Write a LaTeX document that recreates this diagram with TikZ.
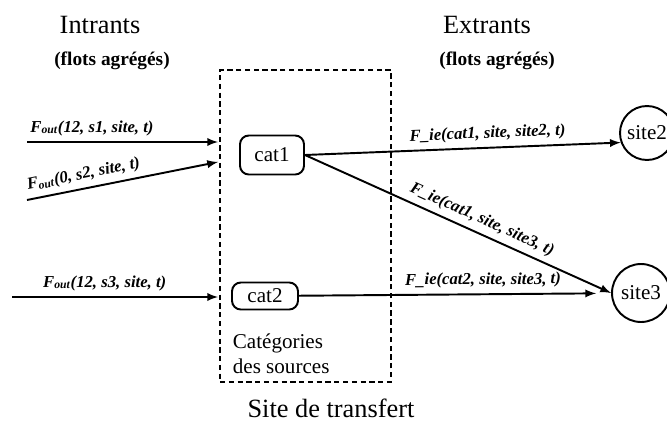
\documentclass[tikz,border=0pt]{standalone}
\usepackage{fontspec}
\setmainfont{Liberation Serif}
\usetikzlibrary{arrows,shapes,positioning}
\newcommand{\fout}[1]{F\textsubscript{out}(#1)}
\newcommand{\fie}[1]{F\_ie(#1)}
\tikzset{
  basic/.style     = {font=\rmfamily, inner sep=2pt},
  titre/.style     = {basic, font=\fontsize{15}{18}\selectfont},
  soustitre/.style = {basic, font=\fontsize{11}{13}\selectfont\bfseries},
  texte/.style     = {basic, font=\fontsize{12}{14}\selectfont},
  cat/.style       = {texte, draw, line width=1.1pt, rounded corners=5pt, align=center},
  site/.style      = {texte, draw, line width=1.1pt, circle, inner sep=0pt},
  flux/.style      = {->, line width=1.1pt},
  etiq/.style      = {font=\fontsize{9.5}{11}\selectfont\bfseries\itshape, sloped, above=2pt, inner sep=1pt}
}
\begin{document}
\begin{tikzpicture}[x=0.02cm, y=-0.02cm, >=latex]
\useasboundingbox (0,0) rectangle (667,423);

% titres
\node[titre] (intr) at (100,25) {Intrants};
\node[soustitre] (intr2) at (112,61) {(flots agrégés)};
\node[titre] (extr) at (487,25) {Extrants};
\node[soustitre] (extr2) at (497,61) {(flots agrégés)};

% site de transfert et categories
\node[draw, line width=1.1pt, dash pattern=on 3pt off 2pt, minimum width=3.42cm, minimum height=6.24cm] (st) at (305.5,226) {};
\node[cat, minimum width=1.28cm, minimum height=0.78cm] (c1) at (272,155) {cat1};
\node[cat, minimum width=1.32cm, minimum height=0.54cm] (c2) at (265,296) {cat2};
\node[texte, align=left, anchor=north west] (leg) at (229,330) {Catégories\\des sources};
\node[titre] (tr) at (331,408) {Site de transfert};

% sites destination
\node[site, minimum size=1.08cm] (s2) at (647,133) {site2};
\node[site, minimum size=1.16cm] (s3) at (641,293) {site3};

% intrants
\coordinate (e1) at (27,142);  \coordinate (f1) at (218,142);
\coordinate (e2) at (27,200);  \coordinate (f2) at (218,162);
\coordinate (e3) at (12,297);  \coordinate (f3) at (218,297);
\foreach \n/\lab/\p in {1/{12, s1, site, t}/0.34, 2/{0, s2, site, t}/0.31, 3/{12, s3, site, t}/0.45}
  \draw[flux] (e\n) -- node[etiq, pos=\p] {\fout{\lab}} (f\n);

% extrants
\draw[flux] (c1.east) -- node[etiq, pos=0.58] {\fie{cat1, site, site2, t}} (s2.200);
\draw[flux] (c1.east) -- node[etiq, pos=0.56] {\fie{cat1, site, site3, t}} (s3.west);
\draw[flux, shorten >=0.3cm] (c2) -- node[etiq, pos=0.59] {\fie{cat2, site, site3, t}} (s3);
\end{tikzpicture}
\end{document}
